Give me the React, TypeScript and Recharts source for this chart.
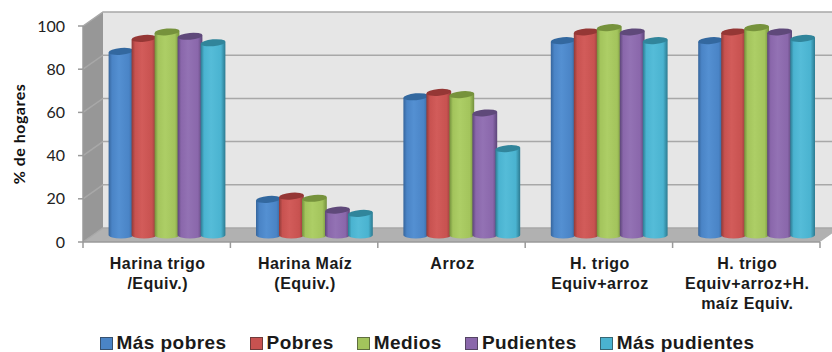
import React from 'react';
import { BarChart, Bar, XAxis, YAxis, CartesianGrid, Legend, Label } from 'recharts';

const categories = [
  'Harina trigo\n/Equiv.)',
  'Harina Maíz\n(Equiv.)',
  'Arroz',
  'H. trigo\nEquiv+arroz',
  'H. trigo\nEquiv+arroz+H.\nmaíz Equiv.',
];
const masPobres = [85, 16.5, 64, 90, 90];
const pobres = [91, 18, 66, 94, 94];
const medios = [94, 17, 65, 96, 96];
const pudientes = [92, 11.5, 56.5, 94, 94];
const masPudientes = [89, 10, 40, 90, 91];
const yTicks = [0, 20, 40, 60, 80, 100];

const rows = categories.map((name, i) => ({
  name,
  masPobres: masPobres[i],
  pobres: pobres[i],
  medios: medios[i],
  pudientes: pudientes[i],
  masPudientes: masPudientes[i],
}));

const WIDTH = 832;
const HEIGHT = 352;
const PLOT_LEFT = 83;
const PLOT_TOP = 26;
const PLOT_BOTTOM = 242;
const PLOT_RIGHT = 820;
const BAND = (PLOT_RIGHT - PLOT_LEFT) / categories.length;
// Oblique offset of the back wall relative to the front plane.
const DEPTH_X = 20;
const DEPTH_Y = 14;
const BAR_WIDTH = 23;

type Tone = { id: string; edge: string; mid: string; light: string; cap: string };
const tones: Record<string, Tone> = {
  masPobres: { id: 'cyl-a', edge: '#36659c', mid: '#4a84c6', light: '#5490d2', cap: '#33689f' },
  pobres: { id: 'cyl-b', edge: '#8f3a38', mid: '#c85250', light: '#d25c5a', cap: '#953735' },
  medios: { id: 'cyl-c', edge: '#73903c', mid: '#a3c45c', light: '#adce66', cap: '#76923c' },
  pudientes: { id: 'cyl-d', edge: '#5c4578', mid: '#8a67ab', light: '#9372b4', cap: '#5f497a' },
  masPudientes: { id: 'cyl-e', edge: '#2c7a90', mid: '#4ab3d0', light: '#55bcd8', cap: '#31859b' },
};

// Draws a shaded cylinder standing halfway into the floor depth.
const cylinder = (tone: Tone) => (props: any) => {
  const { x, y, width, height } = props;
  const dx = DEPTH_X / 2;
  const dy = -DEPTH_Y / 2;
  const rx = (width + 1.8) / 2;
  const ry = 3.4;
  const left = x + dx - 0.4;
  const right = left + rx * 2;
  const top = y + dy;
  const bottom = y + height + dy;
  const cx = left + rx;
  const tilt = -2.2;
  return (
    <g>
      <defs>
        <linearGradient id={tone.id} x1="0" x2="1" y1="0" y2="0">
          <stop offset="0" stopColor={tone.edge} />
          <stop offset="0.14" stopColor={tone.mid} />
          <stop offset="0.42" stopColor={tone.light} />
          <stop offset="0.82" stopColor={tone.mid} />
          <stop offset="1" stopColor={tone.edge} />
        </linearGradient>
      </defs>
      <path
        d={`M${left},${top - tilt / 2} L${left},${bottom} A${rx},${ry} 0 0 0 ${right},${bottom} L${right},${top + tilt / 2} Z`}
        fill={`url(#${tone.id})`}
      />
      <ellipse
        cx={cx}
        cy={top}
        rx={rx}
        ry={ry}
        fill={tone.cap}
        transform={`rotate(-5 ${cx} ${top})`}
      />
    </g>
  );
};

// Back wall, side wall and floor sit under the first grid line; every grid
// line then runs along the side wall and across the back wall.
const wallLine = (props: any) => {
  const { y1, index } = props;
  return (
    <g key={`wall-${index}`}>
      {index === 0 && (
        <g>
          <polygon
            points={`${PLOT_LEFT + DEPTH_X},${PLOT_TOP - DEPTH_Y} ${PLOT_RIGHT + DEPTH_X},${PLOT_TOP - DEPTH_Y} ${PLOT_RIGHT + DEPTH_X},${PLOT_BOTTOM - DEPTH_Y} ${PLOT_LEFT + DEPTH_X},${PLOT_BOTTOM - DEPTH_Y}`}
            fill="#e6e6e6"
          />
          <polygon
            points={`${PLOT_LEFT},${PLOT_TOP} ${PLOT_LEFT + DEPTH_X},${PLOT_TOP - DEPTH_Y} ${PLOT_LEFT + DEPTH_X},${PLOT_BOTTOM - DEPTH_Y} ${PLOT_LEFT},${PLOT_BOTTOM}`}
            fill="#979797"
          />
          <polygon
            points={`${PLOT_LEFT},${PLOT_BOTTOM} ${PLOT_RIGHT},${PLOT_BOTTOM} ${PLOT_RIGHT + DEPTH_X},${PLOT_BOTTOM - DEPTH_Y} ${PLOT_LEFT + DEPTH_X},${PLOT_BOTTOM - DEPTH_Y}`}
            fill="#b1b1b1"
          />
        </g>
      )}
      <polyline
        points={`${PLOT_LEFT},${y1} ${PLOT_LEFT + DEPTH_X},${y1 - DEPTH_Y} ${PLOT_RIGHT + DEPTH_X},${y1 - DEPTH_Y}`}
        fill="none"
        stroke="#a8a8a8"
        strokeWidth={1.5}
      />
    </g>
  );
};

// Category label, with tick marks on the band boundaries rather than its centre.
const CategoryTick = (props: any) => {
  const { x, y, payload, index } = props;
  const lines: string[] = String(payload.value).split('\n');
  const edge = x - BAND / 2;
  return (
    <g>
      <line x1={edge} x2={edge} y1={PLOT_BOTTOM} y2={PLOT_BOTTOM + 6} stroke="#9a9a9a" strokeWidth={1.5} />
      {index === categories.length - 1 && (
        <line x1={edge + BAND} x2={edge + BAND} y1={PLOT_BOTTOM} y2={PLOT_BOTTOM + 6} stroke="#9a9a9a" strokeWidth={1.5} />
      )}
      <text
        x={x + 1}
        y={y}
        textAnchor="middle"
        fontFamily="'Liberation Sans', Arial, sans-serif"
        fontWeight={700}
        fontSize={16}
        letterSpacing={0.5}
        fill="#1a1a1a"
      >
        {lines.map((line, i) => (
          <tspan key={i} x={x + 1} y={y + 20 + i * 20}>
            {line}
          </tspan>
        ))}
      </text>
    </g>
  );
};

const LegendRow = (props: any) => (
  <div
    style={{
      display: 'flex',
      justifyContent: 'flex-start',
      paddingLeft: 77,
      gap: 23.5,
      position: 'relative',
      top: 4,
      fontFamily: "'Liberation Sans', Arial, sans-serif",
      fontWeight: 700,
      fontSize: 19,
      color: '#1a1a1a',
      lineHeight: '18px',
    }}
  >
    {(props.payload || []).map((entry: any) => (
      <div key={entry.value} style={{ display: 'flex', alignItems: 'center', gap: 3.5 }}>
        <span
          style={{
            width: 11,
            height: 11,
            background: entry.color,
            border: '1px solid rgba(40,40,40,0.55)',
            display: 'inline-block',
          }}
        />
        <span style={{ letterSpacing: 0.45 }}>{entry.value}</span>
      </div>
    ))}
  </div>
);

const seriesNames: [keyof typeof tones, string, string][] = [
  ['masPobres', 'Más pobres', '#4a84c6'],
  ['pobres', 'Pobres', '#c85250'],
  ['medios', 'Medios', '#a3c45c'],
  ['pudientes', 'Pudientes', '#8a67ab'],
  ['masPudientes', 'Más pudientes', '#4ab3d0'],
];

export default function App() {
  return (
    <div style={{ position: 'absolute', left: 0, top: 0, width: WIDTH, height: HEIGHT, background: '#fff' }}>
      <BarChart
        width={WIDTH}
        height={HEIGHT}
        data={rows}
        margin={{ top: PLOT_TOP, right: WIDTH - PLOT_RIGHT, left: 23, bottom: 0 }}
        barSize={BAR_WIDTH}
        barGap={0}
      >
        <CartesianGrid vertical={false} horizontal={wallLine} />
        <XAxis
          dataKey="name"
          interval={0}
          height={88}
          tick={<CategoryTick />}
          tickSize={5}
          tickLine={{ stroke: 'none' }}
          stroke="#9a9a9a"
          strokeWidth={1.5}
        />
        <YAxis
          width={60}
          domain={[0, 100]}
          ticks={yTicks}
          tickSize={5}
          tickMargin={13}
          stroke="#9a9a9a"
          strokeWidth={1.5}
          tick={{ fontFamily: 'Lato, sans-serif', fontSize: 16, fill: '#222' }}
        >
          <Label
            value="% de hogares"
            angle={-90}
            position="insideLeft"
            dx={-9}
            style={{ fontFamily: 'Lato, sans-serif', fontWeight: 700, fontSize: 16, letterSpacing: 0.5, fill: '#111', textAnchor: 'middle' }}
          />
        </YAxis>
        <Legend verticalAlign="bottom" content={<LegendRow />} height={22} itemSorter={null} />
        {seriesNames.map(([key, label, color]) => (
          <Bar
            key={key}
            dataKey={key}
            name={label}
            fill={color}
            isAnimationActive={false}
            shape={cylinder(tones[key])}
          />
        ))}
      </BarChart>
    </div>
  );
}
